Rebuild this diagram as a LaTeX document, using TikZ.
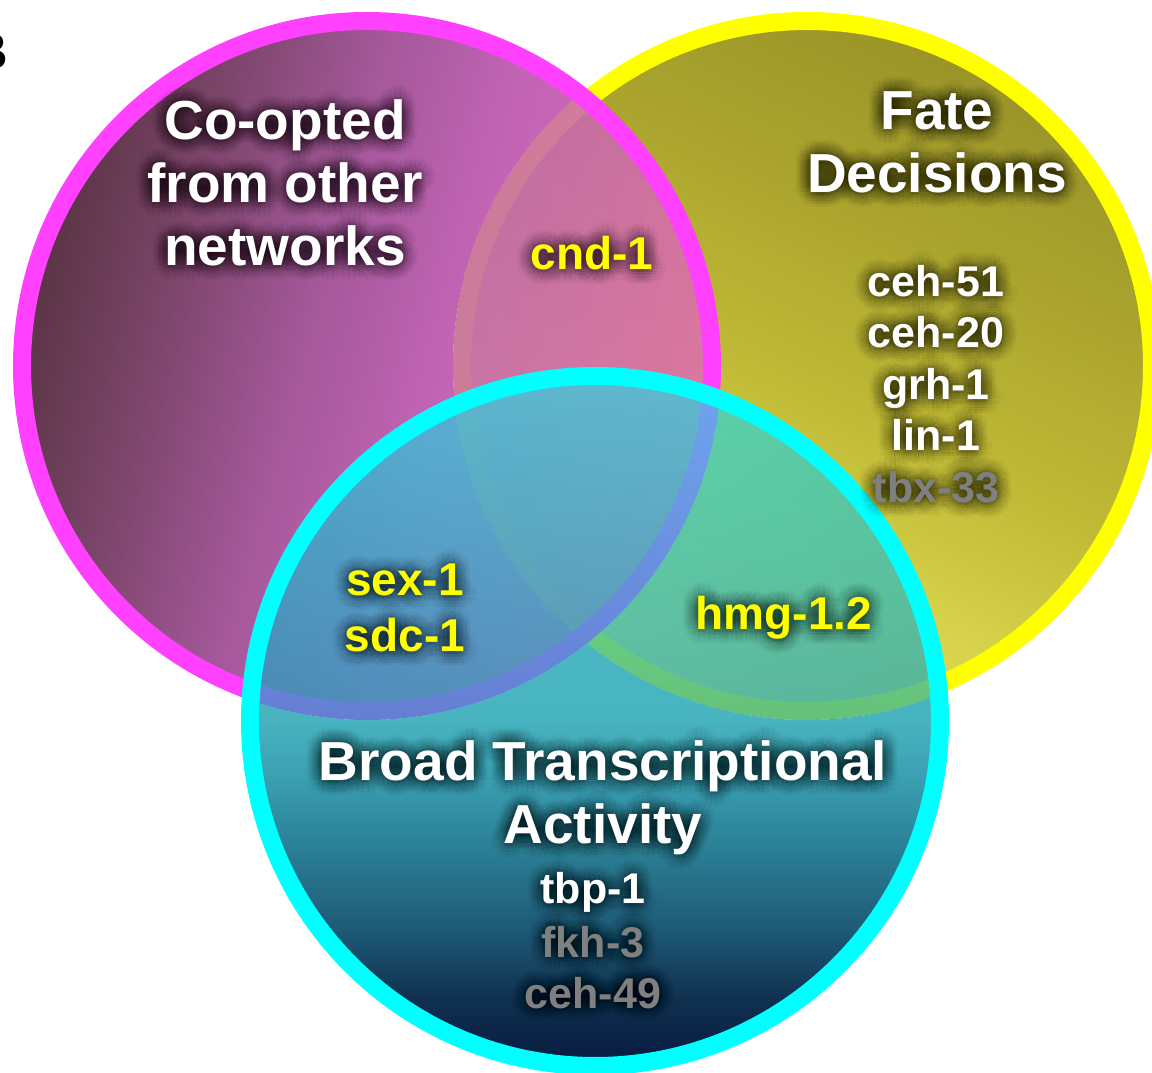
\documentclass[tikz,border=0pt]{standalone}
\usepackage{fontspec}
\setmainfont{Liberation Sans}
\usetikzlibrary{calc}

% ring colours
\definecolor{ringY}{HTML}{FFFF00}
\definecolor{ringM}{HTML}{FF40FF}
\definecolor{ringC}{HTML}{00FFFF}
\definecolor{geneY}{HTML}{FFFF00}
\definecolor{geneG}{HTML}{808080}

% yellow disc (bottom -> top)
\definecolor{ya}{HTML}{E6E262}
\definecolor{yb}{HTML}{D6D24A}
\definecolor{yc}{HTML}{C0BA36}
\definecolor{yd}{HTML}{AAA42E}
\definecolor{ye}{HTML}{9A9428}
\pgfdeclareverticalshading{yelshade}{100bp}{color(0bp)=(ya); color(25bp)=(ya); color(37bp)=(yb); color(48bp)=(yc); color(62bp)=(yd); color(75bp)=(ye); color(100bp)=(ye)}

% magenta disc (left -> right)
\definecolor{ma}{HTML}{5A3444}
\definecolor{mb}{HTML}{7A4468}
\definecolor{mc}{HTML}{A4589A}
\definecolor{md}{HTML}{C464B6}
\definecolor{me}{HTML}{E06CB0}
\pgfdeclarehorizontalshading{magshade}{100bp}{color(0bp)=(ma); color(25bp)=(ma); color(34bp)=(mb); color(45bp)=(mc); color(56bp)=(md); color(75bp)=(me); color(100bp)=(me)}

% cyan disc, lower part (bottom -> top)
\definecolor{ca}{HTML}{071A40}
\definecolor{cb}{HTML}{10304F}
\definecolor{cc}{HTML}{1E5A76}
\definecolor{cd}{HTML}{2A7F95}
\definecolor{ce}{HTML}{3A9EB0}
\definecolor{cf}{HTML}{48B4C0}
\definecolor{cg}{HTML}{50C0C8}
\pgfdeclareverticalshading{cyanlow}{100bp}{color(0bp)=(ca); color(25bp)=(ca); color(29.8bp)=(cb); color(34.9bp)=(cc); color(40.7bp)=(cd); color(45.7bp)=(ce); color(50.1bp)=(cf); color(75bp)=(cg); color(100bp)=(cg)}

% cyan disc, part lying over the other two sets
\definecolor{cta}{HTML}{14A0BC}
\definecolor{ctb}{HTML}{22DCE6}
\pgfdeclareverticalshading{cyanhigh}{100bp}{color(0bp)=(cta); color(50bp)=(cta); color(75bp)=(ctb); color(100bp)=(ctb)}

\tikzset{
  ring/.style={line width=18pt},
  titlefont/.style={font=\fontsize{55}{60}\selectfont\bfseries, inner sep=0pt},
  genefont/.style={font=\fontsize{43}{50}\selectfont\bfseries, inner sep=0pt},
  sharedfont/.style={font=\fontsize{46}{52}\selectfont\bfseries, inner sep=0pt},
}

% a label with a soft dark halo behind it
\newcommand\glowlabel[5]{%
  \foreach \gr in {3,6,9,12,15}{%
    \foreach \ga in {0,22.5,...,337.5}{%
      \node[#4, text=black, text opacity=0.024, anchor=base] at ($#2+(\ga:\gr)$) {#5};%
    }%
  }%
  \node[#4, text=#3, anchor=base] (#1) at #2 {#5};%
}

\begin{document}
\begin{tikzpicture}[x=1pt,y=1pt]
\useasboundingbox (0,0) rectangle (1152,1072);

\coordinate (cenM) at (367,706);
\coordinate (cenY) at (807,706);
\coordinate (cenC) at (595,351);

% Fate decisions set
\shade[shading=yelshade, shading angle=-25] (cenY) circle[radius=345];
\draw[ring, ringY] (cenY) circle[radius=345];

% Co-opted set: opaque on white, see-through over the yellow set
\begin{scope}[even odd rule]
  \clip (-200,-200) rectangle (1400,1300) (cenY) circle[radius=354];
  \shade[shading=magshade, shading angle=-15] (cenM) circle[radius=345];
\end{scope}
\begin{scope}
  \clip (cenY) circle[radius=354];
  \shade[shading=magshade, shading angle=-15, opacity=0.85] (cenM) circle[radius=345];
\end{scope}
\draw[ring, ringM] (cenM) circle[radius=345];

% Broad transcriptional activity set
\begin{scope}[even odd rule]
  \clip (-200,-200) rectangle (1400,1300) (cenM) circle[radius=354];
  \clip (-200,-200) rectangle (1400,1300) (cenY) circle[radius=354];
  \shade[shading=cyanlow] (cenC) circle[radius=345];
\end{scope}
\begin{scope}
  \clip (cenM) circle[radius=354] (cenY) circle[radius=354];
  \shade[shading=cyanhigh, opacity=0.65] (cenC) circle[radius=345];
\end{scope}
\draw[ring, ringC] (cenC) circle[radius=345];

% panel letter
\node[font=\fontsize{52}{60}\selectfont\bfseries, inner sep=0pt, anchor=base east] (panel) at (8.5,1002) {B};

% set titles
\glowlabel{coA}{(285,932)}{white}{titlefont}{Co-opted}
\glowlabel{coB}{(285,869)}{white}{titlefont}{from other}
\glowlabel{coC}{(285,806)}{white}{titlefont}{networks}
\glowlabel{fateA}{(937,942)}{white}{titlefont}{Fate}
\glowlabel{fateB}{(937,879)}{white}{titlefont}{Decisions}
\glowlabel{broadA}{(603,291)}{white}{titlefont}{Broad Transcriptional}
\glowlabel{broadB}{(603,228)}{white}{titlefont}{Activity}

% genes of the fate set
\glowlabel{gA}{(936,775)}{white}{genefont}{ceh-51}
\glowlabel{gB}{(936,724)}{white}{genefont}{ceh-20}
\glowlabel{gC}{(936,672)}{white}{genefont}{grh-1}
\glowlabel{gD}{(936,621)}{white}{genefont}{lin-1}
\glowlabel{gE}{(936,569)}{geneG}{genefont}{tbx-33}

% genes of the broad set
\glowlabel{bA}{(593,168)}{white}{genefont}{tbp-1}
\glowlabel{bB}{(593,115)}{geneG}{genefont}{fkh-3}
\glowlabel{bC}{(593,64)}{geneG}{genefont}{ceh-49}

% genes shared by two sets
\glowlabel{sA}{(592,802)}{geneY}{sharedfont}{cnd-1}
\glowlabel{sB}{(405,476)}{geneY}{sharedfont}{sex-1}
\glowlabel{sC}{(405,420)}{geneY}{sharedfont}{sdc-1}
\glowlabel{sD}{(784,442)}{geneY}{sharedfont}{hmg-1.2}

\end{tikzpicture}
\end{document}
